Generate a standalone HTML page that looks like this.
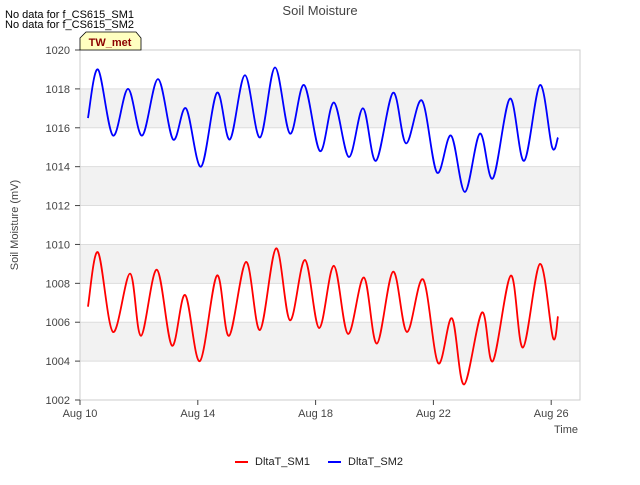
<!DOCTYPE html>
<html><head><meta charset="utf-8">
<style>
body{margin:0;background:#fff;font-family:"Liberation Sans",sans-serif;}
svg text{font-family:"Liberation Sans",sans-serif;}
</style></head>
<body>
<svg id="chart" width="640" height="480">
<rect x="0" y="0" width="640" height="480" fill="#fff"/>
<g id="bands"></g>
<g id="grid"></g>
<rect x="80" y="50" width="500" height="350" fill="none" stroke="#ccc"/>
<g id="axes"></g>
<g id="series"></g>
<text x="320" y="15" text-anchor="middle" font-size="13" fill="#444">Soil Moisture</text>
<text x="5" y="18" font-size="11" fill="#000">No data for f_CS615_SM1</text>
<text x="5" y="28" font-size="11" fill="#000">No data for f_CS615_SM2</text>
<g>
<path d="M80,50 L80,38 L86,32 L136,32 L141,38 L141,50 Z" fill="#ffffc0" stroke="#000" stroke-width="0.8"/>
<text x="110" y="46" text-anchor="middle" font-size="11" font-weight="bold" fill="#8b0000">TW_met</text>
</g>
<text x="18" y="225" text-anchor="middle" font-size="11" fill="#444" transform="rotate(-90 18 225)">Soil Moisture (mV)</text>
<text x="578" y="433" text-anchor="end" font-size="11" fill="#444">Time</text>
<g>
<g><line x1="235" y1="462" x2="248" y2="462" stroke="#f00" stroke-width="2"/><text x="255" y="465" font-size="11" fill="#222">DltaT_SM1</text></g>
<g><line x1="328" y1="462" x2="341" y2="462" stroke="#00f" stroke-width="2"/><text x="348" y="465" font-size="11" fill="#222">DltaT_SM2</text></g>
</g>
</svg>
<script>
const yTicks=[1002,1004,1006,1008,1010,1012,1014,1016,1018,1020];
const xTicks=[10,14,18,22,26];
const xTickLabels=["Aug 10","Aug 14","Aug 18","Aug 22","Aug 26"];
const sm2Days=[10.27,10.61,11.12,11.63,12.11,12.65,13.16,13.60,14.11,14.65,15.09,15.60,16.11,16.62,17.13,17.61,18.15,18.62,19.13,19.61,20.05,20.63,21.07,21.61,22.12,22.60,23.07,23.58,24.02,24.60,25.08,25.62,26.03,26.23];
const sm2Values=[1016.5,1019,1015.6,1018,1015.6,1018.5,1015.4,1017,1014,1017.8,1015.4,1018.7,1015.5,1019.1,1015.7,1018.2,1014.8,1017.3,1014.5,1017,1014.3,1017.8,1015.2,1017.4,1013.7,1015.6,1012.7,1015.7,1013.4,1017.5,1014.3,1018.2,1015,1015.5];
const sm1Days=[10.27,10.61,11.12,11.70,12.07,12.61,13.12,13.57,14.07,14.65,15.06,15.64,16.11,16.66,17.13,17.64,18.12,18.62,19.10,19.64,20.08,20.63,21.10,21.65,22.16,22.63,23.04,23.65,24.02,24.63,25.04,25.62,26.06,26.23];
const sm1Values=[1006.8,1009.6,1005.5,1008.5,1005.3,1008.7,1004.8,1007.4,1004,1008.4,1005.3,1009.1,1005.6,1009.8,1006.1,1009.2,1005.7,1008.9,1005.4,1008.3,1004.9,1008.6,1005.5,1008.2,1003.9,1006.2,1002.8,1006.5,1004,1008.4,1004.7,1009,1005.2,1006.3];

const NS="http://www.w3.org/2000/svg";
const X0=80,X1=580,Y0=50,Y1=400;
const xMin=10,xMax=27,yMin=1002,yMax=1020;
function xs(d){return X0+(d-xMin)/(xMax-xMin)*(X1-X0)*(500/500)*((551-80)/((26-10)/(xMax-xMin)*500));}
function sx(d){return 80+(d-10)*29.45;}
function sy(v){return Y1-(v-yMin)/(yMax-yMin)*(Y1-Y0);}
function mk(tag,attrs,parent){const e=document.createElementNS(NS,tag);for(const k in attrs)e.setAttribute(k,attrs[k]);parent.appendChild(e);return e;}
const bands=document.getElementById('bands'),grid=document.getElementById('grid'),axes=document.getElementById('axes'),series=document.getElementById('series');
for(let i=0;i<yTicks.length-1;i++){
  if(i%2===1){
    const r=mk('rect',{x:X0,y:sy(yTicks[i+1]),width:X1-X0,height:sy(yTicks[i])-sy(yTicks[i+1]),fill:'#f2f2f2'},bands);
    
    
  }
}
yTicks.forEach(v=>{
  const l=mk('line',{x1:X0,x2:X1,y1:sy(v),y2:sy(v),stroke:'#ddd'},grid);
  
  
  const t=mk('text',{x:X0-10,y:sy(v)+4,'text-anchor':'end','font-size':11,fill:'#444'},axes);
  t.textContent=v;
  
  
  mk('line',{x1:X0-5,x2:X0,y1:sy(v),y2:sy(v),stroke:'#444'},axes);
});
xTicks.forEach((d,i)=>{
  mk('line',{x1:sx(d),x2:sx(d),y1:Y1,y2:Y1+5,stroke:'#444'},axes);
  const t=mk('text',{x:sx(d),y:Y1+17,'text-anchor':'middle','font-size':11,fill:'#444'},axes);
  t.textContent=xTickLabels[i];
  
  
});
function path(days,vals){
  const p=days.map((d,i)=>[sx(d),sy(vals[i])]);
  let s='M'+p[0][0]+','+p[0][1];
  for(let i=0;i<p.length-1;i++){
    const a=p[Math.max(0,i-1)],b=p[i],c=p[i+1],e=p[Math.min(p.length-1,i+2)];
    const c1=[b[0]+(c[0]-a[0])/6,b[1]+(c[1]-a[1])/6],c2=[c[0]-(e[0]-b[0])/6,c[1]-(e[1]-b[1])/6];
    s+=' C'+c1+' '+c2+' '+c;
  }
  return s;
}
const l2=mk('path',{d:path(sm2Days,sm2Values),fill:'none',stroke:'#00f','stroke-width':1.8},series);


const l1=mk('path',{d:path(sm1Days,sm1Values),fill:'none',stroke:'#f00','stroke-width':1.8},series);


</script>
</body></html>
